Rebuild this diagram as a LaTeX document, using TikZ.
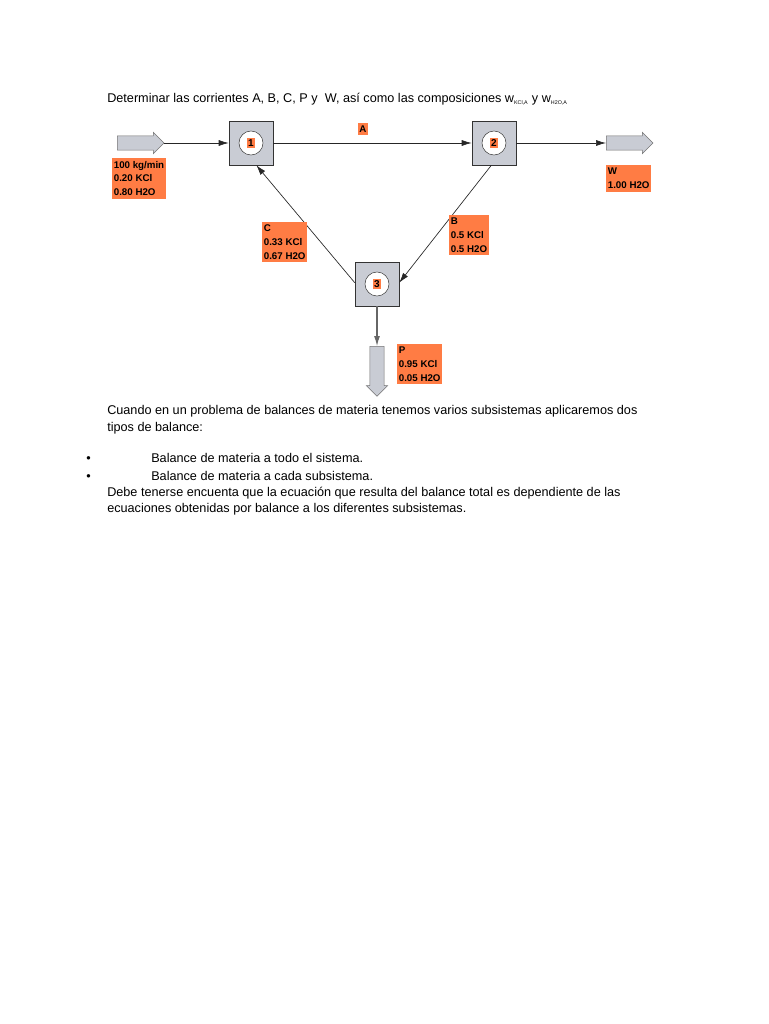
\documentclass[tikz,border=0pt]{standalone}
\usepackage{fontspec}
\setmainfont{Liberation Sans}
\usetikzlibrary{arrows.meta,positioning,shapes.arrows}
\definecolor{StreamOrange}{RGB}{255,124,68}
\definecolor{UnitGray}{RGB}{201,204,212}
\tikzset{
  unitbox/.style={draw=black!80, fill=UnitGray, minimum size=33pt, inner sep=0pt},
  unitring/.style={circle, draw=black!75, fill=white, minimum size=18pt, inner sep=0pt},
  unittag/.style={fill=StreamOrange, inner sep=1pt, font=\bfseries\fontsize{7.5}{8}\selectfont},
  streamlbl/.style={fill=StreamOrange, align=left, inner xsep=1.2pt, inner ysep=2.2pt, anchor=north west, font=\bfseries\fontsize{7.3}{10.3}\selectfont},
  blockarrow/.style={single arrow, draw=black!55, fill=UnitGray, inner xsep=0pt, inner ysep=5.2pt, minimum height=35pt, single arrow head extend=2.6pt},
  flow/.style={-{Latex[length=7.5pt,width=4.5pt]}, black!85, line width=0.5pt},
  bodytext/.style={anchor=base west, inner sep=0pt, font=\fontsize{9.5}{11}\selectfont},
}

\begin{document}
\begin{tikzpicture}[x=0.75pt, y=-0.75pt]
      \useasboundingbox[fill=white] (0,0) rectangle (768,1024);
      % heading
      \node[bodytext] (title) at (107,103) {Determinar las corrientes A, B, C, P y \ W, así como las composiciones w\textsubscript{\fontsize{4}{4}\selectfont KCl,A} y w\textsubscript{\fontsize{4}{4}\selectfont H2O,A}};
      % units
      \node[unitbox] (box1) at (251,143) {};
      \node[unitbox] (box2) at (494,143) {};
      \node[unitbox] (box3) at (377,284) {};
      \node[unitring] (ring1) at (box1) {};
      \node[unitring] (ring2) at (box2) {};
      \node[unitring] (ring3) at (box3) {};
      \node[unittag] (tag1) at (ring1) {1};
      \node[unittag] (tag2) at (ring2) {2};
      \node[unittag] (tag3) at (ring3) {3};
      % block arrows
      \node[blockarrow, anchor=tail] (feedin) at (117,143) {};
      \node[blockarrow, anchor=tail] (wout) at (606,143) {};
      \node[blockarrow, shape border rotate=270, inner xsep=5.2pt, inner ysep=0pt, minimum height=37.5pt, anchor=tail] (pout) at (377,346) {};
      % streams
      \draw[flow] (feedin.tip) -- (box1.west);
      \draw[flow] (box1.east) -- (box2.west);
      \draw[flow] (box2.east) -- (wout.tail);
      \draw[flow] ([xshift=-2pt]box2.south) -- ([yshift=1pt]box3.east);
      \draw[flow] ([yshift=1pt]box3.west) -- ([xshift=4pt]box1.south);
      \draw[flow, black!60, line width=0.8pt] (box3.south) -- (pout.tail);
      % stream labels
      \node[streamlbl] (lblfeed) at (112,158) {100 kg/min\\0.20 KCl\\0.80 H2O};
      \node[streamlbl, anchor=center] (lbla) at (363,129) {A};
      \node[streamlbl] (lblw) at (606,165) {W\\1.00 H2O};
      \node[streamlbl] (lblb) at (449,215) {B\\0.5 KCl\\0.5 H2O};
      \node[streamlbl] (lblc) at (262,222) {C\\0.33 KCl\\0.67 H2O};
      \node[streamlbl] (lblp) at (397,344) {P\\0.95 KCl\\0.05 H2O};
      % text below
      \node[bodytext] (para1) at (107,414) {Cuando en un problema de balances de materia tenemos varios subsistemas aplicaremos dos};
      \node[bodytext] (para2) at (107,431) {tipos de balance:};
      \node[bodytext] (dot1) at (86,462) {•};
      \node[bodytext] (item1) at (151,462) {Balance de materia a todo el sistema.};
      \node[bodytext] (dot2) at (86,480) {•};
      \node[bodytext] (item2) at (151,480) {Balance de materia a cada subsistema.};
      \node[bodytext] (para3) at (107,496) {Debe tenerse encuenta que la ecuación que resulta del balance total es dependiente de las};
      \node[bodytext] (para4) at (107,512) {ecuaciones obtenidas por balance a los diferentes subsistemas.};
    \end{tikzpicture}
\end{document}
